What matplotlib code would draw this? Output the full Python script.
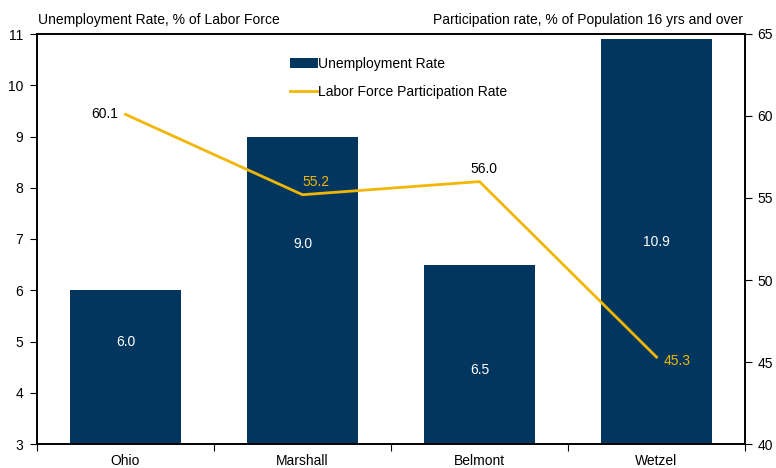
import matplotlib.pyplot as plt
import numpy as np

plt.rcParams['font.family'] = ['Liberation Sans', 'DejaVu Sans']

counties = ['Ohio', 'Marshall', 'Belmont', 'Wetzel']
unemployment = [6.0, 9.0, 6.5, 10.9]
participation = [60.1, 55.2, 56.0, 45.3]

BAR_COLOR = '#02365f'
LINE_COLOR = '#f2b705'

fig = plt.figure(figsize=(7.76, 4.68), dpi=100)
ax = fig.add_axes([37 / 776, 1 - 444 / 468, (745 - 37) / 776, (444 - 34) / 468])
x = np.arange(len(counties))
ax.bar(x, unemployment, width=0.63, color=BAR_COLOR, label='Unemployment Rate', zorder=2)
ax.set_ylim(3, 11)
ax.set_xlim(-0.5, len(counties) - 0.5)
ax.set_yticks(range(3, 12))

# bar value labels (white, inside bars)
label_y = [5.0, 6.9, 4.45, 6.95]
for xi, v, ly in zip(x, unemployment, label_y):
    ax.text(xi, ly, f'{v:.1f}', color='white', ha='center', va='center', fontsize=10)

# x ticks at category boundaries, labels centered
ax.set_xticks(np.arange(-0.5, len(counties), 1.0))
ax.set_xticklabels([])
ax.set_xticks(x, minor=True)
ax.set_xticklabels(counties, minor=True)
ax.tick_params(axis='x', which='minor', length=0, pad=7, labelsize=10)
ax.tick_params(axis='x', which='major', direction='out', length=5)
ax.tick_params(axis='y', direction='out', length=5, labelsize=10, pad=5)

ax2 = ax.twinx()
ax2.plot(x, participation, color=LINE_COLOR, lw=2, label='Labor Force Participation Rate', zorder=3)
ax2.set_ylim(40, 65)
ax2.set_yticks(range(40, 66, 5))
ax2.tick_params(axis='y', direction='out', length=5, labelsize=10, pad=4)

# line labels
offsets = [(-5, 0, 'right', 'center', 'black'),
           (0, 4, 'left', 'bottom', LINE_COLOR),
           (3, 4, 'center', 'bottom', 'black'),
           (5, -3, 'left', 'center', LINE_COLOR)]
for xi, v, (dx, dy, ha, va, c) in zip(x, participation, offsets):
    ax2.annotate(f'{v:.1f}', (xi, v), xytext=(dx, dy), textcoords='offset points',
                 ha=ha, va=va, color=c, fontsize=10)

for a in (ax, ax2):
    for s in a.spines.values():
        s.set_linewidth(1.2)

h1, l1 = ax.get_legend_handles_labels()
h2, l2 = ax2.get_legend_handles_labels()
ax.legend(h1 + h2, l1 + l2, loc='upper left', bbox_to_anchor=(0.34, 0.975), frameon=False,
          fontsize=10, handlelength=2.0, handletextpad=0.0, labelspacing=1.0)

fig.text(38 / 776, 1 - 20 / 468, 'Unemployment Rate, % of Labor Force', fontsize=10, va='center', ha='left')
fig.text(743 / 776, 1 - 20 / 468, 'Participation rate, % of Population 16 yrs and over', fontsize=10, va='center', ha='right')

fig.savefig('out.png', dpi=100)
